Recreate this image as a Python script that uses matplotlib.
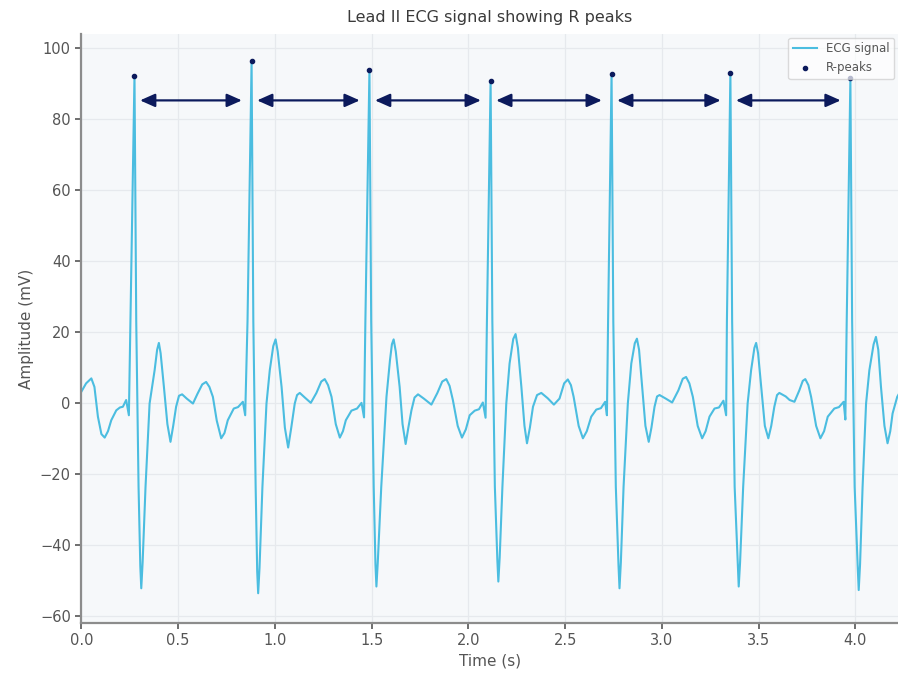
import matplotlib
matplotlib.use('Agg')
import matplotlib.pyplot as plt

# ECG trace (time in s, amplitude in mV)
time_s = [
    0.000, 0.025, 0.052, 0.068, 0.086, 0.104, 0.121, 0.138, 0.155, 0.181, 0.200, 0.215, 0.232, 0.246,
    0.254, 0.275, 0.284, 0.296, 0.305, 0.310, 0.317, 0.332, 0.353, 0.379, 0.392, 0.401, 0.410, 0.427,
    0.445, 0.461, 0.475, 0.490, 0.505, 0.521, 0.545, 0.577, 0.600, 0.625, 0.645, 0.662, 0.680, 0.700,
    0.723, 0.740, 0.757, 0.788, 0.810, 0.835, 0.847,
    0.859, 0.880, 0.889, 0.901, 0.909, 0.914, 0.921, 0.936, 0.957, 0.974, 0.992, 1.004, 1.015, 1.035,
    1.052, 1.069, 1.085, 1.103, 1.115, 1.129, 1.155, 1.186, 1.215, 1.240, 1.258, 1.275, 1.293, 1.315,
    1.336, 1.352, 1.367, 1.396, 1.425, 1.448, 1.461,
    1.468, 1.489, 1.498, 1.511, 1.520, 1.525, 1.532, 1.550, 1.577, 1.595, 1.605, 1.614, 1.625, 1.645,
    1.660, 1.676, 1.690, 1.706, 1.722, 1.740, 1.770, 1.809, 1.840, 1.865, 1.886, 1.903, 1.920, 1.945,
    1.967, 1.987, 2.007, 2.033, 2.055, 2.075, 2.089,
    2.096, 2.115, 2.124, 2.137, 2.150, 2.155, 2.162, 2.176, 2.196, 2.213, 2.232, 2.244, 2.256, 2.274,
    2.290, 2.303, 2.318, 2.334, 2.355, 2.377, 2.410, 2.442, 2.471, 2.495, 2.514, 2.530, 2.544, 2.570,
    2.592, 2.612, 2.635, 2.661, 2.685, 2.707, 2.716,
    2.722, 2.740, 2.749, 2.762, 2.776, 2.781, 2.788, 2.802, 2.824, 2.842, 2.860, 2.871, 2.882, 2.898,
    2.915, 2.932, 2.946, 2.962, 2.975, 2.988, 3.020, 3.053, 3.085, 3.108, 3.125, 3.142, 3.160, 3.185,
    3.208, 3.226, 3.246, 3.272, 3.295, 3.318, 3.332,
    3.336, 3.354, 3.363, 3.376, 3.392, 3.397, 3.404, 3.420, 3.443, 3.461, 3.478, 3.487, 3.497, 3.513,
    3.532, 3.550, 3.565, 3.581, 3.595, 3.607, 3.640, 3.660, 3.685, 3.710, 3.728, 3.741, 3.757, 3.771,
    3.797, 3.819, 3.838, 3.857, 3.891, 3.915, 3.939, 3.948,
    3.955, 3.974, 3.983, 3.996, 4.012, 4.017, 4.024, 4.037, 4.055, 4.072, 4.094, 4.106, 4.118, 4.132,
    4.150, 4.166, 4.180, 4.192, 4.216, 4.240,
]
ecg_mv = [
    3.1, 5.5, 6.9, 4.5, -3.9, -8.8, -9.8, -8.0, -4.9, -2.1, -1.3, -1.1, 0.8, -3.5,
    23.0, 92.3, 23.0, -23.7, -46.0, -52.3, -45.0, -23.7, -0.2, 9.2, 15.0, 16.9, 14.0, 4.5,
    -6.0, -11.0, -6.5, -1.1, 2.0, 2.4, 1.2, -0.2, 2.5, 5.2, 5.9, 4.5, 1.7, -5.0,
    -10.0, -8.5, -4.9, -1.6, -1.2, 0.3, -3.5,
    23.0, 96.3, 23.0, -23.7, -47.5, -53.7, -46.5, -23.7, -0.2, 9.2, 16.0, 17.9, 14.5, 4.5,
    -7.0, -12.6, -7.0, -0.2, 2.2, 2.8, 1.5, 0.0, 2.8, 6.0, 6.7, 5.0, 1.7, -6.0,
    -9.8, -8.0, -4.9, -2.2, -1.6, 0.0, -4.1,
    23.0, 94.0, 23.0, -23.7, -45.5, -51.8, -45.0, -23.7, 1.7, 12.0, 16.5, 17.9, 14.5, 4.5,
    -6.0, -11.6, -7.0, -2.1, 1.5, 2.4, 1.2, -0.5, 2.8, 6.0, 6.7, 4.8, 0.8, -6.5,
    -9.8, -7.5, -3.5, -2.2, -1.8, 0.1, -4.2,
    23.0, 90.9, 23.0, -23.7, -44.5, -50.4, -43.5, -23.7, -0.2, 11.1, 18.0, 19.4, 15.5, 4.5,
    -6.5, -11.4, -7.0, -1.1, 2.2, 2.8, 1.3, -0.5, 1.2, 5.5, 6.6, 5.0, 1.7, -6.5,
    -10.0, -8.0, -3.9, -1.9, -1.5, 0.3, -3.5,
    23.0, 92.8, 23.0, -23.7, -46.0, -52.3, -45.0, -23.7, -0.2, 11.1, 16.8, 18.1, 15.0, 4.5,
    -6.5, -11.0, -7.0, -1.1, 1.8, 2.2, 1.2, 0.1, 3.5, 6.8, 7.3, 5.5, 1.7, -6.5,
    -10.0, -8.0, -3.9, -1.6, -1.3, 0.6, -3.5,
    23.0, 93.1, 23.0, -23.7, -45.5, -51.8, -45.0, -23.7, -0.2, 9.2, 15.5, 16.9, 14.0, 4.5,
    -6.5, -10.0, -6.5, -1.1, 2.2, 2.8, 1.8, 0.8, 0.3, 3.5, 6.2, 6.7, 5.0, 1.7,
    -6.5, -10.0, -8.0, -3.9, -1.6, -1.2, 0.3, -4.7,
    23.0, 91.5, 23.0, -23.7, -46.5, -52.8, -45.5, -23.7, -0.2, 9.2, 16.5, 18.6, 15.0, 4.5,
    -6.5, -11.4, -8.0, -3.0, 1.7, 4.0,
]

# detected R peaks
peak_t = [0.275, 0.880, 1.489, 2.115, 2.740, 3.354, 3.974]
peak_mv = [92.3, 96.3, 94.0, 90.9, 92.8, 93.1, 91.5]
arrow_level = 85.3

line_color = '#4bbde0'
navy = '#0c1a5c'

fig = plt.figure(figsize=(8.98, 6.75), dpi=100)
ax = fig.add_axes([0.0905, 0.0775, 0.9095, 0.872])
ax.set_facecolor('#f6f8fa')

ax.plot(time_s, ecg_mv, color=line_color, linewidth=1.5, label='ECG signal', zorder=2)
ax.scatter(peak_t, peak_mv, color=navy, s=9, label='R-peaks', zorder=3)

for t0, t1 in zip(peak_t[:-1], peak_t[1:]):
    ax.annotate('', xy=(t1, arrow_level), xytext=(t0, arrow_level),
                arrowprops=dict(arrowstyle='<|-|>,head_length=0.9,head_width=0.4',
                                color=navy, lw=1.6, shrinkA=4, shrinkB=7))

ax.set_xlim(0, 4.22)
ax.set_ylim(-62, 104)
ax.set_xticks([0.0, 0.5, 1.0, 1.5, 2.0, 2.5, 3.0, 3.5, 4.0])
ax.set_yticks([-60, -40, -20, 0, 20, 40, 60, 80, 100])

ax.set_title('Lead II ECG signal showing R peaks', fontsize=11.5, color='#3a3a3a', pad=9)
ax.set_xlabel('Time (s)', fontsize=11, color='#555555')
ax.set_ylabel('Amplitude (mV)', fontsize=11, color='#555555')

ax.grid(True, color='#e6e9ed', linewidth=0.9)
ax.set_axisbelow(True)
for side in ['top', 'right']:
    ax.spines[side].set_visible(False)
for side in ['left', 'bottom']:
    ax.spines[side].set_color('#8c8c8c')
    ax.spines[side].set_linewidth(1.6)
ax.tick_params(colors='#555555', labelsize=10.5, length=4, width=1.2)

leg = ax.legend(loc='upper right', fontsize=8.5, framealpha=0.7, borderaxespad=0.3)
for txt in leg.get_texts():
    txt.set_color('#555555')

plt.savefig('out.png', dpi=100)
plt.close()
